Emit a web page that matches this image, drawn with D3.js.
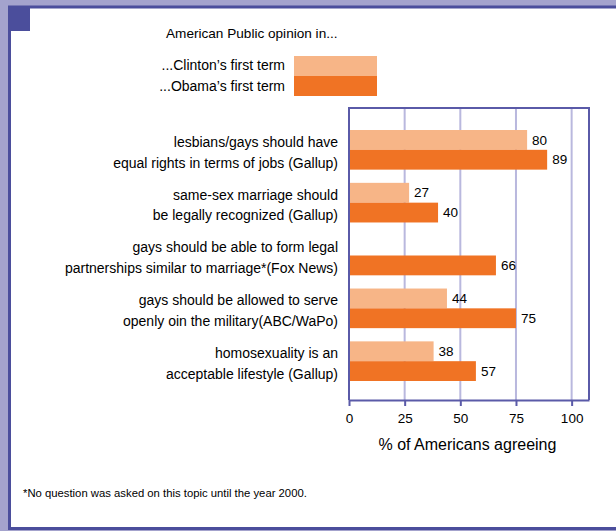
<!DOCTYPE html>
<html>
<head>
<meta charset="utf-8">
<script src="https://cdn.jsdelivr.net/npm/d3@7"></script>
<style>
  body { margin: 0; background: #a4a3cd; }
  svg { display: block; font-family: "Liberation Sans", Arial, Helvetica, sans-serif; }
</style>
</head>
<body>
<svg id="chart"></svg>
<script>
// Data: survey questions and % agreeing
const questions = [
    ["lesbians/gays should have", "equal rights in terms of jobs (Gallup)"],
    ["same-sex marriage should", "be legally recognized (Gallup)"],
    ["gays should be able to form legal", "partnerships similar to marriage*(Fox News)"],
    ["gays should be allowed to serve", "openly oin the military(ABC/WaPo)"],
    ["homosexuality is an", "acceptable lifestyle (Gallup)"]
];
const clintonValues = [80, 27, null, 44, 38];
const obamaValues = [89, 40, 66, 75, 57];
const seriesNames = ["...Clinton\u2019s first term", "...Obama\u2019s first term"];
const tickValues = [0, 25, 50, 75, 100];

const width = 616;
const height = 531;
const colors = ["#f7b587", "#f07324"];
const frameDark = "#4b4e9c";

const svg = d3.select("#chart")
    .attr("width", width)
    .attr("height", height);

// Frame
svg.append("rect").attr("x", 0).attr("y", 0).attr("width", width).attr("height", height).attr("fill", "#a4a3cd");
svg.append("rect")
    .attr("x", 9.5).attr("y", 7).attr("width", width + 10).attr("height", 521.5)
    .attr("fill", "#fff").attr("stroke", frameDark).attr("stroke-width", 3);
svg.append("rect").attr("x", 8).attr("y", 6).attr("width", 22).attr("height", 25).attr("fill", frameDark);

// Title and legend
svg.append("text")
    .attr("x", 166).attr("y", 38)
    .style("font-size", "13.6px")
    .text("American Public opinion in...");

const legend = svg.append("g");
seriesNames.forEach((name, i) => {
    legend.append("rect")
        .attr("x", 294).attr("y", 56 + i * 20)
        .attr("width", 83).attr("height", 20)
        .attr("fill", colors[i]);
    legend.append("text")
        .attr("x", 285).attr("y", 65 + i * 21)
        .attr("dy", "0.35em")
        .attr("text-anchor", "end")
        .style("font-size", "14px")
        .text(name);
});

// Scales
const plot = { left: 349, right: 589, top: 108, bottom: 400 };

const x = d3.scaleLinear()
    .domain([0, 107.8])
    .range([plot.left, plot.right]);

const y = d3.scaleBand()
    .domain(d3.range(questions.length))
    .range([130, 381])
    .paddingInner(0.25)
    .paddingOuter(0);

const half = y.bandwidth() / 2;

// Grid lines
svg.append("g")
    .selectAll("line")
    .data(tickValues.slice(1))
    .join("line")
    .attr("x1", d => x(d)).attr("x2", d => x(d))
    .attr("y1", plot.top).attr("y2", plot.bottom)
    .attr("stroke", "#b9b8de")
    .attr("stroke-width", 2);

// Bars
const rows = questions.map((q, i) => ({ i, q, c: clintonValues[i], o: obamaValues[i] }));

svg.selectAll(".bar-c")
    .data(rows.filter(d => d.c != null))
    .join("rect")
    .attr("class", "bar-c")
    .attr("x", x(0))
    .attr("y", d => y(d.i))
    .attr("width", d => x(d.c) - x(0))
    .attr("height", half)
    .attr("fill", colors[0]);

svg.selectAll(".bar-o")
    .data(rows)
    .join("rect")
    .attr("class", "bar-o")
    .attr("x", x(0))
    .attr("y", d => y(d.i) + half)
    .attr("width", d => x(d.o) - x(0))
    .attr("height", half)
    .attr("fill", colors[1]);

// Value labels
svg.selectAll(".lab-c")
    .data(rows.filter(d => d.c != null))
    .join("text")
    .attr("x", d => x(d.c) + 5)
    .attr("y", d => y(d.i) + half / 2)
    .attr("dy", "0.35em")
    .style("font-size", "13.5px")
    .text(d => d.c);

svg.selectAll(".lab-o")
    .data(rows)
    .join("text")
    .attr("x", d => x(d.o) + 5)
    .attr("y", d => y(d.i) + half * 1.5)
    .attr("dy", "0.35em")
    .style("font-size", "13.5px")
    .text(d => d.o);

// Category labels
const cats = svg.selectAll(".cat")
    .data(rows)
    .join("text")
    .attr("text-anchor", "end")
    .style("font-size", "14px");
cats.append("tspan")
    .attr("x", 338).attr("y", d => y(d.i) + half / 2 + 2)
    .attr("dy", "0.35em")
    .text(d => d.q[0]);
cats.append("tspan")
    .attr("x", 338).attr("y", d => y(d.i) + half * 1.5 + 3)
    .attr("dy", "0.35em")
    .text(d => d.q[1]);

// Plot border
svg.append("path")
    .attr("d", `M${plot.left},${plot.bottom}V${plot.top}H${plot.right}V${plot.bottom}`)
    .attr("fill", "none")
    .attr("stroke", "#5a5aa8")
    .attr("stroke-width", 2);

// X axis
const xAxis = svg.append("g")
    .attr("transform", `translate(0,${plot.bottom})`)
    .call(d3.axisBottom(x).tickValues(tickValues).tickSize(6).tickSizeOuter(0).tickPadding(7));
xAxis.select(".domain").attr("stroke", "#5a5aa8").attr("stroke-width", 2);
xAxis.selectAll(".tick line").attr("stroke", "#5a5aa8").attr("stroke-width", 2);
xAxis.selectAll(".tick text")
    .style("font-size", "13.5px")
    .style("font-family", "Liberation Sans, Arial, sans-serif")
    .attr("fill", "#000");

svg.append("text")
    .attr("x", x(53.2))
    .attr("y", 450)
    .attr("text-anchor", "middle")
    .style("font-size", "16px")
    .text("% of Americans agreeing");

// Footnote
svg.append("text")
    .attr("x", 23)
    .attr("y", 497)
    .style("font-size", "11.3px")
    .text("*No question was asked on this topic until the year 2000.");
</script>
</body>
</html>
